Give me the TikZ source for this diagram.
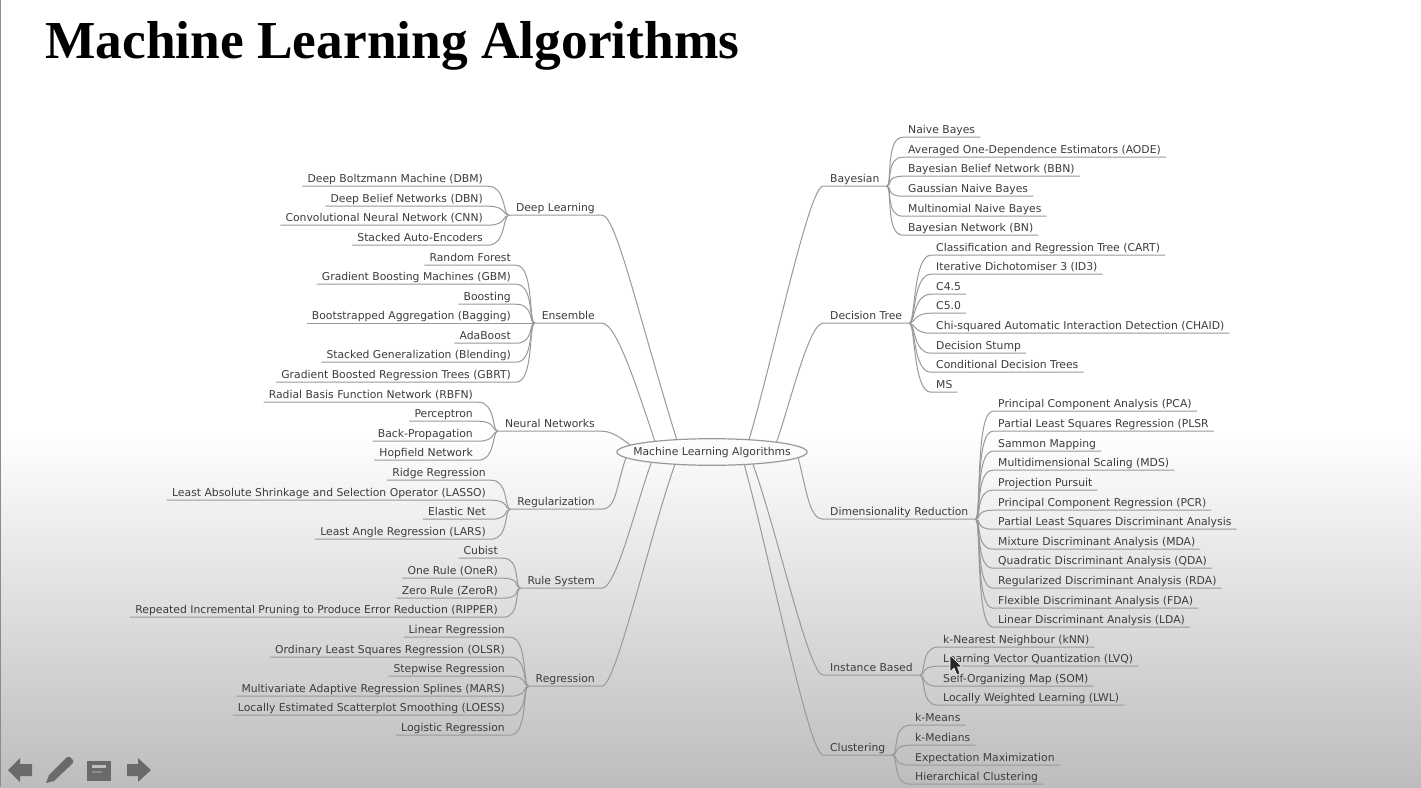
\documentclass[tikz,border=0pt]{standalone}
\usepackage{fontspec}
\setmainfont{DejaVu Sans}
\newfontfamily\titlefont{Liberation Serif}
\usetikzlibrary{shapes.geometric}
\definecolor{linkgray}{HTML}{999999}
\definecolor{textgray}{HTML}{3C3C3C}
\definecolor{icongray}{HTML}{6A6A6A}
\tikzset{
    link/.style={draw=linkgray,line width=1pt},
    leaf/.style={font=\fontsize{10.8}{13}\selectfont,text=textgray,inner xsep=5pt,inner ysep=1pt,text height=8pt,text depth=3pt},
    branch/.style={font=\fontsize{10.8}{13}\selectfont,text=textgray,inner xsep=7pt,inner ysep=1pt,text height=8pt,text depth=3pt},
}

\begin{document}
\begin{tikzpicture}[x=1pt,y=-1pt]
    \useasboundingbox (0,0) rectangle (1421,787);
    \fill[white] (0,0) rectangle (1421,430);
    \shade[top color=white,bottom color=black!26] (0,430) rectangle (1421,787);
    \draw[black!45,line width=1.2pt] (0.5,0)--(0.5,787);
    \node[font=\titlefont\bfseries\fontsize{53.4}{60}\selectfont,anchor=base west,inner sep=0pt] (title) at (45,58) {Machine Learning Algorithms};
    \node[ellipse,draw=linkgray,line width=1.2pt,inner xsep=-11.5pt,inner ysep=4.4pt,text height=8pt,text depth=2pt,
        font=\fontsize{10.8}{13}\selectfont,text=textgray] (mla) at (712,452) {Machine Learning Algorithms};

    % left side
    \node[branch,anchor=base east] (deep) at (602,211) {Deep Learning};
    \draw[link] (mla.160.3) .. controls +(-40,-130) and +(14,0) .. (deep.south east) -- (deep.south west);
    \foreach \n/\y/\t in {dbm/178/Deep Boltzmann Machine (DBM),dbn/198/Deep Belief Networks (DBN),cnn/217/Convolutional Neural Network (CNN),sae/237/Stacked Auto-Encoders}{
        \node[leaf,anchor=base east] (\n) at (488,\y+4) {\t};
        \draw[link] (deep.south west) .. controls +(-6,0) and +(18,0) .. (\n.south east) -- (\n.south west);
    }
    \node[branch,anchor=base east] (ens) at (602,319) {Ensemble};
    \draw[link] (mla.169.1) .. controls +(-20,-60) and +(14,0) .. (ens.south east) -- (ens.south west);
    \foreach \n/\y/\t in {rf/257/Random Forest,gbm/276/Gradient Boosting Machines (GBM),boost/296/Boosting,bag/315/Bootstrapped Aggregation (Bagging),ada/335/AdaBoost,blend/354/Stacked Generalization (Blending),gbrt/374/Gradient Boosted Regression Trees (GBRT)}{
        \node[leaf,anchor=base east] (\n) at (516,\y+4) {\t};
        \draw[link] (ens.south west) .. controls +(-6,0) and +(18,0) .. (\n.south east) -- (\n.south west);
    }
    \node[branch,anchor=base east] (nn) at (602,427) {Neural Networks};
    \draw[link] (mla.175.5) .. controls +(-8,-6) and +(10,0) .. (nn.south east) -- (nn.south west);
    \foreach \n/\y/\t in {rbfn/394/Radial Basis Function Network (RBFN),perc/413/Perceptron,bprop/433/Back-Propagation,hop/452/Hopfield Network}{
        \node[leaf,anchor=base east] (\n) at (478,\y+4) {\t};
        \draw[link] (nn.south west) .. controls +(-6,0) and +(18,0) .. (\n.south east) -- (\n.south west);
    }
    \node[branch,anchor=base east] (reg) at (602,505) {Regularization};
    \draw[link] (mla.184.7) .. controls +(-10,30) and +(14,0) .. (reg.south east) -- (reg.south west);
    \foreach \n/\y/\t in {ridge/472/Ridge Regression,lasso/492/Least Absolute Shrinkage and Selection Operator (LASSO),enet/511/Elastic Net,lars/531/Least Angle Regression (LARS)}{
        \node[leaf,anchor=base east] (\n) at (491,\y+4) {\t};
        \draw[link] (reg.south west) .. controls +(-6,0) and +(18,0) .. (\n.south east) -- (\n.south west);
    }
    \node[branch,anchor=base east] (rule) at (602,584) {Rule System};
    \draw[link] (mla.190.9) .. controls +(-16,45) and +(14,0) .. (rule.south east) -- (rule.south west);
    \foreach \n/\y/\t in {cub/550/Cubist,oner/570/One Rule (OneR),zeror/590/Zero Rule (ZeroR),ripper/609/Repeated Incremental Pruning to Produce Error Reduction (RIPPER)}{
        \node[leaf,anchor=base east] (\n) at (503,\y+4) {\t};
        \draw[link] (rule.south west) .. controls +(-6,0) and +(18,0) .. (\n.south east) -- (\n.south west);
    }
    \node[branch,anchor=base east] (regr) at (602,682) {Regression};
    \draw[link] (mla.199.7) .. controls +(-25,70) and +(14,0) .. (regr.south east) -- (regr.south west);
    \foreach \n/\y/\t in {lin/629/Linear Regression,olsr/649/Ordinary Least Squares Regression (OLSR),step/668/Stepwise Regression,mars/688/Multivariate Adaptive Regression Splines (MARS),loess/707/Locally Estimated Scatterplot Smoothing (LOESS),logit/727/Logistic Regression}{
        \node[leaf,anchor=base east] (\n) at (510,\y+4) {\t};
        \draw[link] (regr.south west) .. controls +(-6,0) and +(18,0) .. (\n.south east) -- (\n.south west);
    }

    % right side
    \node[branch,anchor=base west] (bay) at (823,182) {Bayesian};
    \draw[link] (mla.19.7) .. controls +(25,-85) and +(-14,0) .. (bay.south west) -- (bay.south east);
    \foreach \n/\y/\t in {nb/129/Naive Bayes,aode/149/Averaged One-Dependence Estimators (AODE),bbn/168/Bayesian Belief Network (BBN),gnb/188/Gaussian Naive Bayes,mnb/208/Multinomial Naive Bayes,bn/227/Bayesian Network (BN)}{
        \node[leaf,anchor=base west] (\n) at (903,\y+4) {\t};
        \draw[link] (bay.south east) .. controls +(6,0) and +(-18,0) .. (\n.south west) -- (\n.south east);
    }
    \node[branch,anchor=base west] (dt) at (823,319) {Decision Tree};
    \draw[link] (mla.9.8) .. controls +(14,-40) and +(-14,0) .. (dt.south west) -- (dt.south east);
    \foreach \n/\y/\t in {cart/247/Classification and Regression Tree (CART),id3/266/Iterative Dichotomiser 3 (ID3),c45/286/C4.5,c50/305/C5.0,chaid/325/Chi-squared Automatic Interaction Detection (CHAID),stump/345/Decision Stump,cdt/364/Conditional Decision Trees,ms/384/MS}{
        \node[leaf,anchor=base west] (\n) at (931,\y+4) {\t};
        \draw[link] (dt.south east) .. controls +(6,0) and +(-18,0) .. (\n.south west) -- (\n.south east);
    }
    \node[branch,anchor=base west] (dim) at (823,515) {Dimensionality Reduction};
    \draw[link] (mla.-4.7) .. controls +(8,30) and +(-14,0) .. (dim.south west) -- (dim.south east);
    \foreach \n/\y/\t in {pca/403/Principal Component Analysis (PCA),plsr/423/Partial Least Squares Regression (PLSR,sam/443/Sammon Mapping,mds/462/Multidimensional Scaling (MDS),pp/482/Projection Pursuit,pcr/502/Principal Component Regression (PCR),plsda/521/Partial Least Squares Discriminant Analysis,mda/541/Mixture Discriminant Analysis (MDA),qda/560/Quadratic Discriminant Analysis (QDA),rda/580/Regularized Discriminant Analysis (RDA),fda/600/Flexible Discriminant Analysis (FDA),lda/619/Linear Discriminant Analysis (LDA)}{
        \node[leaf,anchor=base west] (\n) at (993,\y+4) {\t};
        \draw[link] (dim.south east) .. controls +(6,0) and +(-18,0) .. (\n.south west) -- (\n.south east);
    }
    \node[branch,anchor=base west] (inst) at (823,671) {Instance Based};
    \draw[link] (mla.-17) .. controls +(25,70) and +(-14,0) .. (inst.south west) -- (inst.south east);
    \foreach \n/\y/\t in {knn/639/k-Nearest Neighbour (kNN),lvq/658/Learning Vector Quantization (LVQ),som/678/Self-Organizing Map (SOM),lwl/697/Locally Weighted Learning (LWL)}{
        \node[leaf,anchor=base west] (\n) at (938,\y+4) {\t};
        \draw[link] (inst.south east) .. controls +(6,0) and +(-18,0) .. (\n.south west) -- (\n.south east);
    }
    \node[branch,anchor=base west] (clu) at (823,751) {Clustering};
    \draw[link] (mla.-22.3) .. controls +(25,90) and +(-14,0) .. (clu.south west) -- (clu.south east);
    \foreach \n/\y/\t in {kmeans/717/k-Means,kmed/737/k-Medians,em/757/Expectation Maximization,hc/776/Hierarchical Clustering}{
        \node[leaf,anchor=base west] (\n) at (910,\y+4) {\t};
        \draw[link] (clu.south east) .. controls +(6,0) and +(-18,0) .. (\n.south west) -- (\n.south east);
    }

    % cursor
    \filldraw[fill=black!85,draw=white,line width=0.6pt] (950,655)--(950,672)--(954,668)--(957,675)--(960,673.5)--(957.5,667)--(962,667)--cycle;

    % slide controls
    \fill[icongray] (8,770)--(20,758)--(20,764)--(32,764)--(32,776)--(20,776)--(20,782)--cycle;
    \fill[icongray] (151,770)--(138,758)--(138,764)--(127,764)--(127,776)--(138,776)--(138,782)--cycle;
    \fill[icongray] (46,783)--(49,775)--(67,757)--(70,757)--(73,760)--(73,763)--(54,781)--cycle;
    \fill[icongray] (87,761) rectangle (111,781);
    \fill[black!25] (92,765) rectangle (106,768);
    \fill[black!45] (92,771) rectangle (102,773);
\end{tikzpicture}
\end{document}
